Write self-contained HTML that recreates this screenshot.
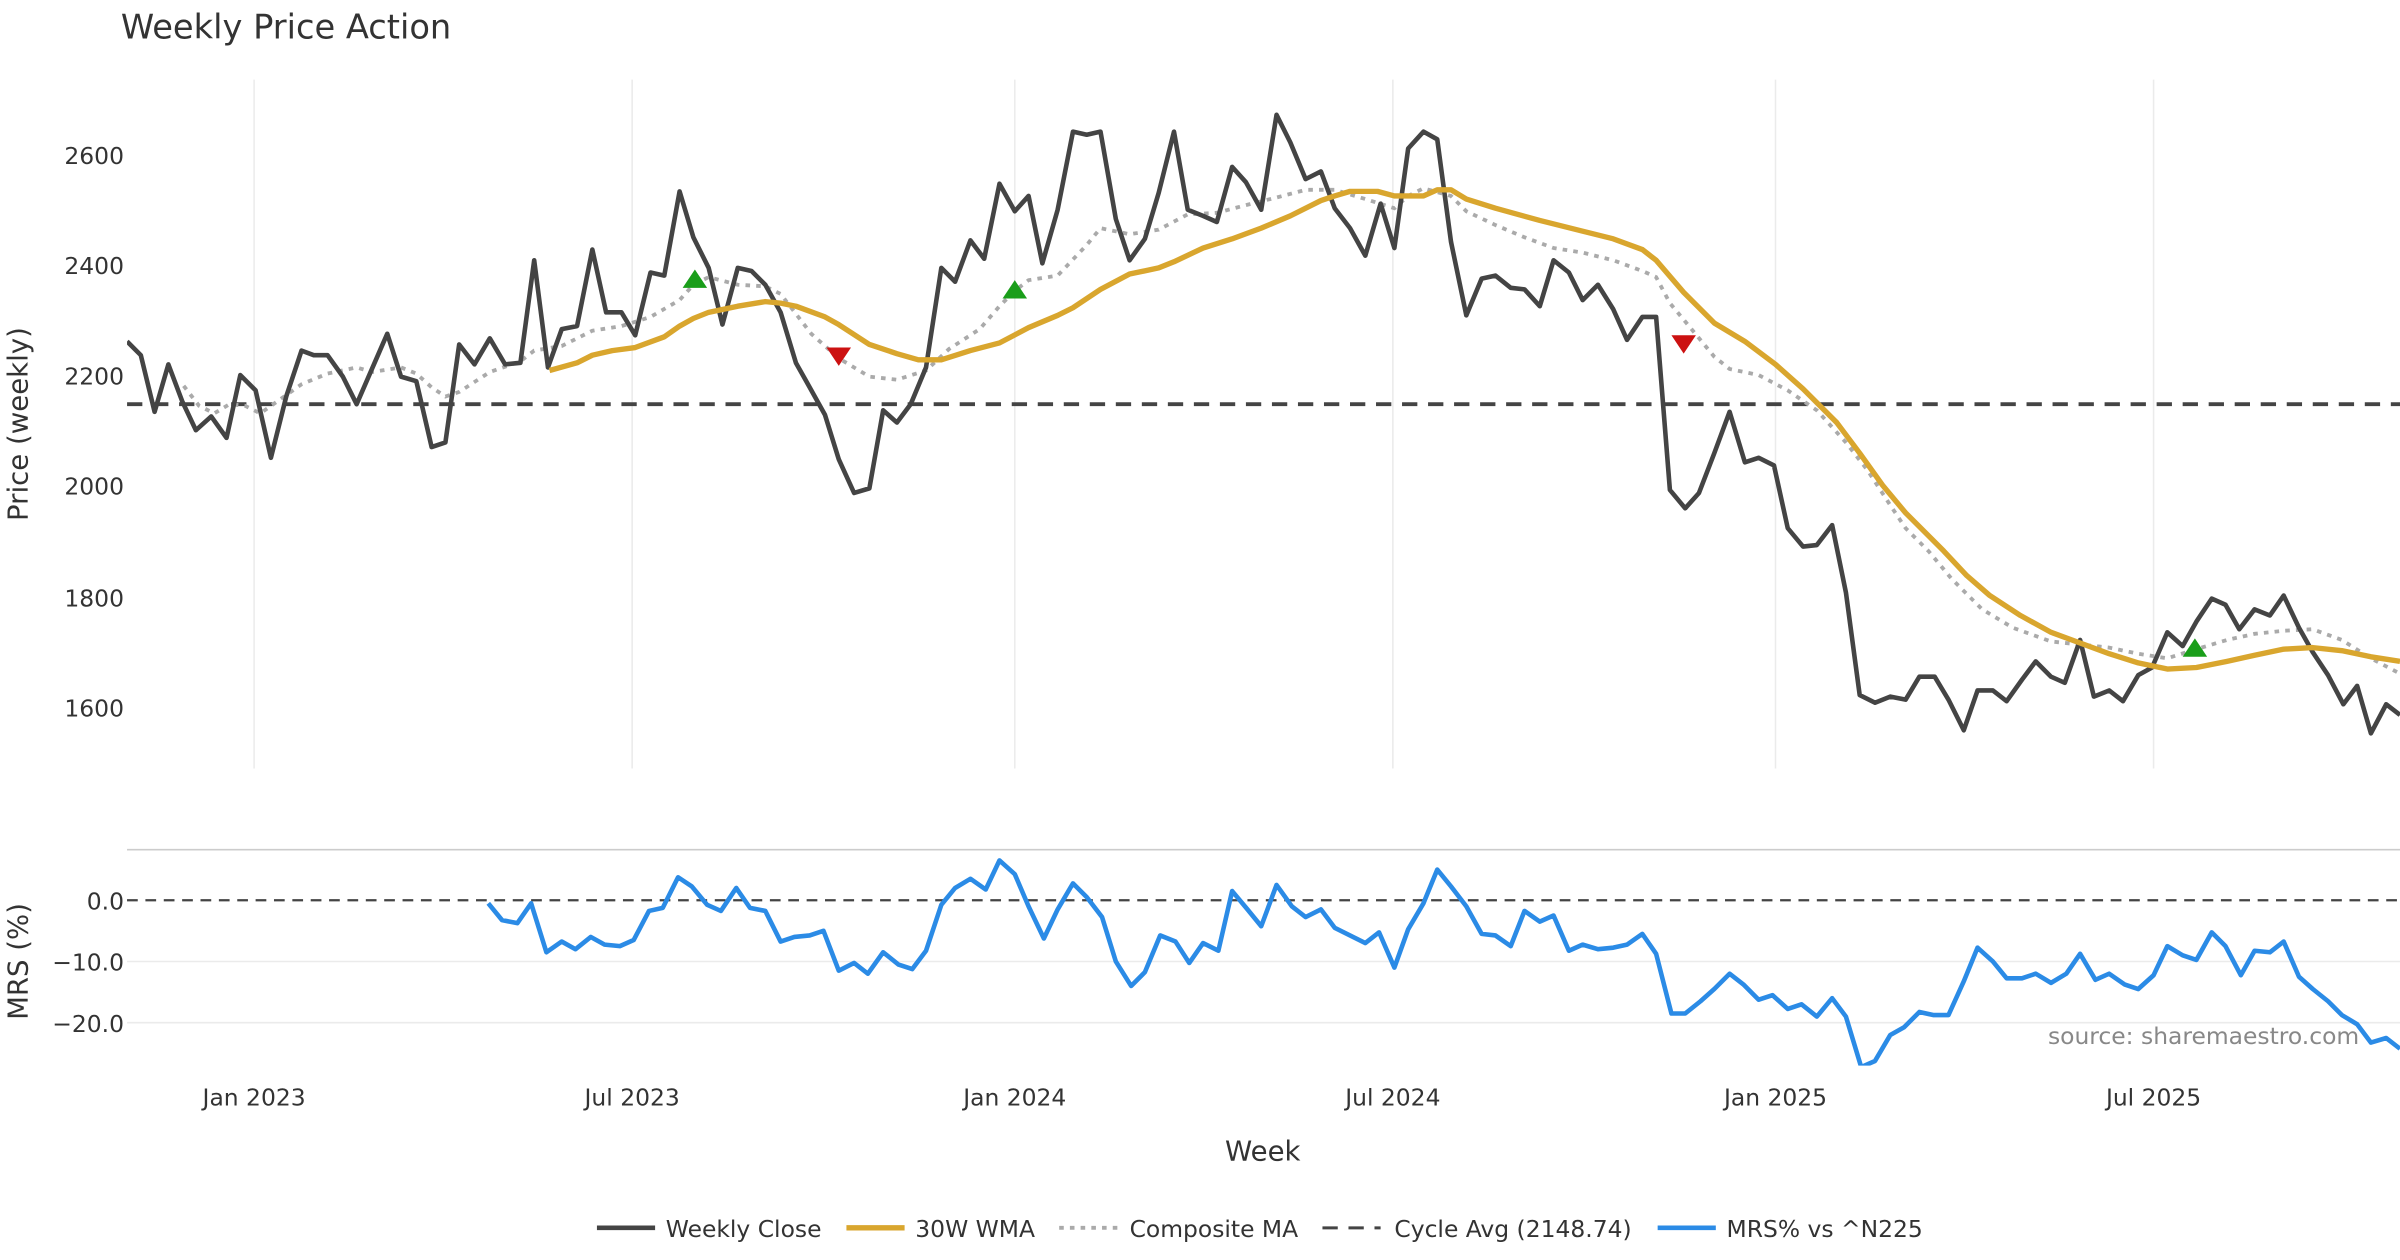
<!DOCTYPE html>
<html><head><meta charset="utf-8"><style>
html,body{margin:0;padding:0;background:#fff;}
svg{display:block;}
text{font-family:"DejaVu Sans","Liberation Sans",sans-serif;fill:#333;}
</style></head><body>
<svg width="2400" height="1260" viewBox="0 0 1568 823" preserveAspectRatio="none" xmlns="http://www.w3.org/2000/svg">
<defs>
<clipPath id="cm"><rect x="83" y="52" width="1485" height="450"/></clipPath>
<clipPath id="cr"><rect x="83" y="556" width="1485" height="140"/></clipPath>
</defs>
<text x="79" y="25" font-size="22">Weekly Price Action</text>
<g stroke="#ebebeb" stroke-width="1">
<line x1="166" y1="52" x2="166" y2="502"/><line x1="413" y1="52" x2="413" y2="502"/>
<line x1="663" y1="52" x2="663" y2="502"/><line x1="910" y1="52" x2="910" y2="502"/>
<line x1="1160" y1="52" x2="1160" y2="502"/><line x1="1407" y1="52" x2="1407" y2="502"/>
<line x1="83" y1="628" x2="1568" y2="628"/><line x1="83" y1="668" x2="1568" y2="668"/>
</g>
<line x1="83" y1="555" x2="1568" y2="555" stroke="#ccc" stroke-width="1"/>
<g font-size="15.3" text-anchor="end">
<text x="81" y="107">2600</text><text x="81" y="179">2400</text><text x="81" y="251">2200</text>
<text x="81" y="323">2000</text><text x="81" y="396">1800</text><text x="81" y="468">1600</text>
<text x="81" y="594">0.0</text><text x="81" y="634">−10.0</text><text x="81" y="674">−20.0</text>
</g>
<text transform="translate(18,277) rotate(-90)" font-size="18" text-anchor="middle">Price (weekly)</text>
<text transform="translate(18,628) rotate(-90)" font-size="18" text-anchor="middle">MRS (%)</text>
<g font-size="15.3" text-anchor="middle">
<text x="166" y="722">Jan 2023</text><text x="413" y="722">Jul 2023</text><text x="663" y="722">Jan 2024</text>
<text x="910" y="722">Jul 2024</text><text x="1160" y="722">Jan 2025</text><text x="1407" y="722">Jul 2025</text>
</g>
<text x="825" y="758" font-size="18" text-anchor="middle">Week</text>
<g clip-path="url(#cm)">
<line x1="83" y1="264" x2="1568" y2="264" stroke="#444" stroke-width="2.5" stroke-dasharray="10,7"/>
<polyline fill="none" stroke="#aaa" stroke-width="2.5" stroke-dasharray="3,4" points="120,252 130,265 140,270 150,264 160,265 170,270 180,263 197,251 214,244 233,240 243,243 262,240 272,244 282,253 291,259 300,256 320,243 340,236 349,229 367,226 387,216 406,213 425,207 444,196 453,186 463,181 482,186 500,187 510,192 520,205 530,218 548,234 568,246 586,248 605,242 620,228 640,215 653,200 663,190 672,183 691,180 710,160 719,149 738,153 757,150 776,140 795,139 814,134 834,129 853,124 872,124 892,130 911,136 920,128 930,123 948,128 958,138 977,147 996,155 1015,162 1034,165 1054,170 1073,177 1082,181 1091,198 1101,210 1120,233 1130,241 1149,245 1168,255 1187,268 1206,289 1220,307 1235,330 1245,345 1260,360 1275,378 1295,398 1315,410 1340,419 1359,421 1378,423 1397,427 1416,430 1435,424 1455,418 1473,414 1492,412 1511,411 1530,418 1549,430 1568,440"/>
<polyline fill="none" stroke="#444" stroke-width="3" stroke-linejoin="round" points="83,223 92,232 101,269 110,238 119,262 128,281 138,272 148,286 157,245 167,255 177,299 187,259 197,229 205,232 214,232 224,246 233,264 243,241 253,218 262,246 272,249 282,292 291,289 300,225 310,238 320,221 330,238 340,237 349,170 358,240 367,215 377,213 387,163 396,204 406,204 415,219 425,178 434,180 444,125 453,155 463,175 472,212 482,175 491,177 500,186 510,204 520,237 529,253 539,271 548,300 558,322 568,319 577,268 586,276 595,264 605,240 615,175 624,184 634,157 643,169 653,120 663,138 672,128 681,172 691,137 701,86 710,88 719,86 729,143 738,170 748,156 757,126 767,86 776,137 786,141 795,145 805,109 814,119 824,137 834,75 843,93 853,117 863,112 872,136 882,149 892,167 902,133 911,162 920,97 930,86 939,91 948,158 958,206 968,182 977,180 987,188 996,189 1006,200 1015,170 1025,178 1034,196 1044,186 1054,202 1063,222 1073,207 1082,207 1091,320 1101,332 1110,322 1120,296 1130,269 1140,302 1149,299 1159,304 1168,345 1178,357 1187,356 1197,343 1206,387 1215,454 1225,459 1235,455 1245,457 1254,442 1264,442 1273,457 1283,477 1292,451 1302,451 1311,458 1321,444 1330,432 1340,442 1349,446 1359,418 1368,455 1378,451 1387,458 1397,441 1406,436 1416,413 1426,422 1435,406 1445,391 1454,395 1463,411 1473,398 1483,402 1492,389 1502,410 1511,426 1521,441 1531,460 1540,448 1549,479 1559,460 1568,467"/>
<polyline fill="none" stroke="#d9a62e" stroke-width="3.5" stroke-linejoin="round" points="359,242 377,237 387,232 400,229 415,227 434,220 444,213 453,208 463,204 482,200 500,197 510,198 520,200 539,207 548,212 568,225 586,231 600,235 615,235 634,229 653,224 672,214 691,206 701,201 719,189 738,179 757,175 767,171 786,162 805,156 824,149 843,141 863,131 872,128 882,125 900,125 911,128 920,128 930,128 939,124 948,124 958,130 977,136 1006,144 1034,151 1054,156 1073,163 1082,170 1100,191 1120,211 1140,223 1160,238 1178,254 1200,276 1215,296 1230,317 1245,335 1270,360 1285,376 1300,389 1320,402 1340,413 1359,420 1378,427 1397,433 1416,437 1435,436 1455,432 1473,428 1492,424 1511,423 1530,425 1549,429 1568,432"/>
<g fill="#1a9e1a"><polygon points="454,176 446,188 462,188"/><polygon points="663,183 655,195 671,195"/><polygon points="1434,417 1426,429 1442,429"/></g>
<g fill="#cc1111"><polygon points="540,227 556,227 548,239"/><polygon points="1092,219 1108,219 1100,231"/></g>
</g>
<line x1="83" y1="588" x2="1568" y2="588" stroke="#444" stroke-width="1.5" stroke-dasharray="7,5"/>
<g clip-path="url(#cr)">
<polyline fill="none" stroke="#2b8be6" stroke-width="3" stroke-linejoin="round" points="319,590 328,601 338,603 347,590 357,622 367,615 376,620 386,612 395,617 405,618 414,614 424,595 433,593 443,573 452,579 462,591 471,595 481,580 490,593 500,595 510,615 519,612 529,611 538,608 548,634 558,629 567,636 577,622 587,630 596,633 605,621 615,591 624,580 634,574 644,581 653,562 663,571 672,592 682,613 691,594 701,577 710,586 720,599 729,628 739,644 748,635 758,611 768,615 777,629 786,616 796,621 805,582 815,594 824,605 834,578 844,592 853,599 863,594 872,606 882,611 892,616 901,609 911,632 920,607 930,590 939,568 948,579 958,592 968,610 977,611 987,618 996,595 1006,602 1015,598 1025,621 1034,617 1044,620 1054,619 1063,617 1073,610 1082,623 1092,662 1101,662 1111,654 1120,646 1130,636 1139,643 1149,653 1158,650 1168,659 1177,656 1187,664 1197,652 1206,664 1216,697 1225,693 1235,676 1244,671 1254,661 1263,663 1273,663 1283,641 1292,619 1302,628 1311,639 1321,639 1330,636 1340,642 1350,636 1359,623 1369,640 1378,636 1388,643 1397,646 1407,637 1416,618 1426,624 1435,627 1445,609 1454,618 1464,637 1473,621 1483,622 1492,615 1502,638 1511,646 1521,654 1530,663 1540,669 1549,681 1559,678 1568,685"/>
</g>
<text x="1338" y="682" font-size="15.3" style="fill:#888">source: sharemaestro.com</text>
<g font-size="15.3">
<line x1="390" y1="802" x2="428" y2="802" stroke="#444" stroke-width="3"/><text x="435" y="808">Weekly Close</text>
<line x1="553" y1="802" x2="591" y2="802" stroke="#d9a62e" stroke-width="3.5"/><text x="598" y="808">30W WMA</text>
<line x1="692" y1="802" x2="730" y2="802" stroke="#aaa" stroke-width="2.5" stroke-dasharray="3,4"/><text x="738" y="808">Composite MA</text>
<line x1="864" y1="802" x2="902" y2="802" stroke="#444" stroke-width="2" stroke-dasharray="10,7"/><text x="911" y="808">Cycle Avg (2148.74)</text>
<line x1="1083" y1="802" x2="1121" y2="802" stroke="#2b8be6" stroke-width="3"/><text x="1128" y="808">MRS% vs ^N225</text>
</g>
</svg>
</body></html>
